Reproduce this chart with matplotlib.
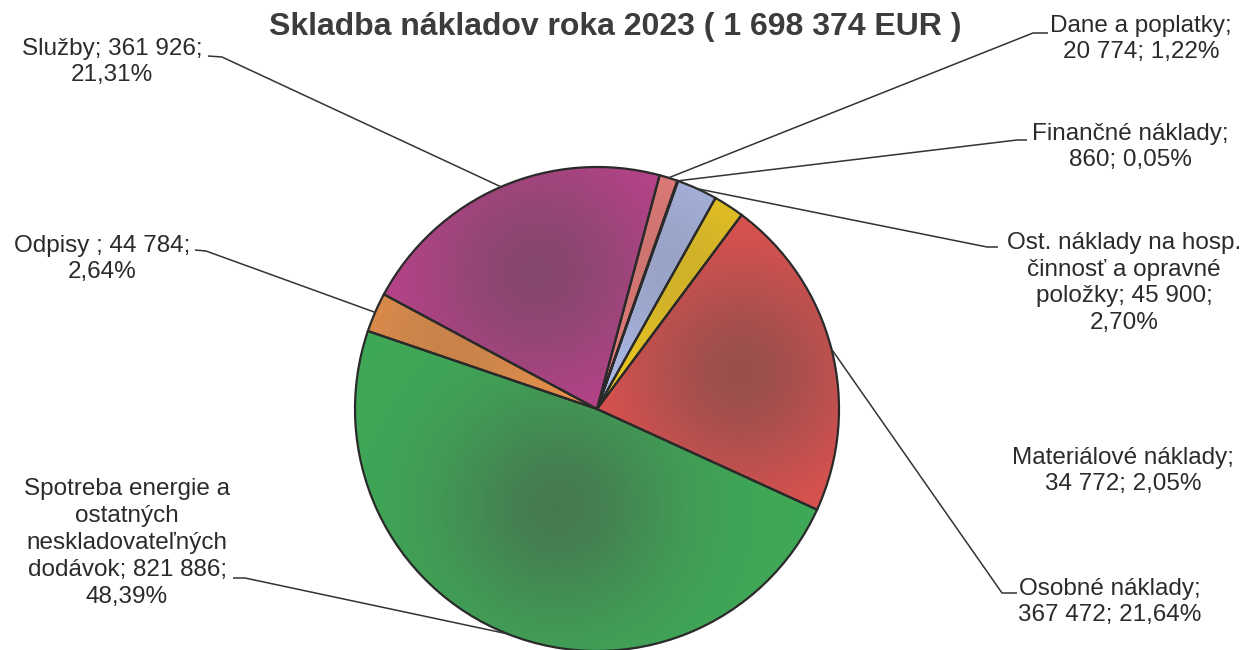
import numpy as np
import matplotlib.pyplot as plt
import matplotlib.colors as mcolors

W, H = 1247, 650

# data (EUR), order clockwise from the top
categories = ["Dane a poplatky", "Finančné náklady",
              "Ost. náklady na hosp. činnosť a opravné položky",
              "Materiálové náklady", "Osobné náklady",
              "Spotreba energie a ostatných neskladovateľných dodávok",
              "Odpisy", "Služby"]
values = [20774, 860, 45900, 34772, 367472, 821886, 44784, 361926]
colors = ["#F2807C", "#8C8CD8", "#B4C2F2", "#FAD21E", "#E8524F",
          "#3FA957", "#F4964A", "#C0428E"]
label_texts = [
    "Dane a poplatky;\n20 774; 1,22%",
    "Finančné náklady;\n860; 0,05%",
    "Ost. náklady na hosp.\nčinnosť a opravné\npoložky; 45 900;\n2,70%",
    "Materiálové náklady;\n34 772; 2,05%",
    "Osobné náklady;\n367 472; 21,64%",
    "Spotreba energie a\nostatných\nneskladovateľných\ndodávok; 821 886;\n48,39%",
    "Odpisy ; 44 784;\n2,64%",
    "Služby; 361 926;\n21,31%",
]
title = "Skladba nákladov roka 2023 ( 1 698 374 EUR )"

# layout in pixels (y from top)
label_pos = [(1141, 39), (1130, 147), (1124, 283), (1123, 471),
             (1110, 602), (127, 543), (102, 259), (112, 62)]
leader_pos = {0: [(1048, 33), (1033, 33)],
              1: [(1027, 140), (1017, 140)],
              2: [(998, 247), (987, 247)],
              4: [(1017, 593), (1002, 593)],
              5: [(233, 578), (245, 578)],
              6: [(195, 250), (206, 251)],
              7: [(208, 56), (222, 57)]}

plt.rcParams['font.family'] = ['Liberation Sans', 'DejaVu Sans']
fig = plt.figure(figsize=(W / 100, H / 100), dpi=100)
ax = fig.add_axes([0, 0, 1, 1])

cx, cy, R = 597, H - 409, 242
wedges, _ = ax.pie(values, colors=colors, startangle=75, counterclock=False,
                   center=(cx, cy), radius=R, frame=True,
                   wedgeprops=dict(edgecolor='#2a2a2a', linewidth=1.6))

# shaded fill: blends to grey towards the centroid of each slice
gray = np.array([0.3, 0.3, 0.3])
x0, x1, y0, y1 = cx - R - 2, cx + R + 2, cy - R - 2, cy + R + 2
gx, gy = np.meshgrid(np.arange(x0, x1) + 0.5, np.arange(y0, y1) + 0.5)
for w, c in zip(wedges, colors):
    mid = np.deg2rad((w.theta1 + w.theta2) / 2)
    half_deg = abs(w.theta2 - w.theta1) / 2
    half = np.deg2rad(half_deg)
    dist = 2 * R * np.sin(half) / (3 * half)
    px, py = cx + dist * np.cos(mid), cy + dist * np.sin(mid)
    d2 = (gx - px) ** 2 + (gy - py) ** 2
    amp = 0.18 + 0.32 * min(1.0, half_deg / 20)
    f = amp * np.exp(-d2 / (2 * 85 ** 2))
    rgb = np.array(mcolors.to_rgb(c))
    img = rgb[None, None, :] * (1 - f[..., None]) + gray * f[..., None]
    im = ax.imshow(img, extent=(x0, x1, y0, y1), origin='lower', zorder=1,
                   interpolation='bilinear')
    im.set_clip_path(w)
    w.set_facecolor('none')
    w.set_zorder(2)

# labels and leader lines
for i, (txt, (lx, ly)) in enumerate(zip(label_texts, label_pos)):
    ax.text(lx, H - ly, txt, ha='center', va='center', fontsize=17.5,
            color='#2b2b2b', linespacing=1.28, zorder=3)
    if i in leader_pos:
        w = wedges[i]
        mid = np.deg2rad((w.theta1 + w.theta2) / 2)
        ex, ey = cx + R * np.cos(mid), cy + R * np.sin(mid)
        (ax0, ay0), (ax1, ay1) = leader_pos[i]
        ax.plot([ax0, ax1, ex], [H - ay0, H - ay1, ey], color='#333333',
                lw=1.1, zorder=3, solid_capstyle='butt')

ax.text(615, H - 27, title, ha='center', va='center', fontsize=23,
        fontweight='bold', color='#3c3c3c', zorder=3)

ax.set_xlim(0, W)
ax.set_ylim(0, H)
ax.set_aspect('auto')
ax.axis('off')
fig.savefig('out.png', dpi=100)
